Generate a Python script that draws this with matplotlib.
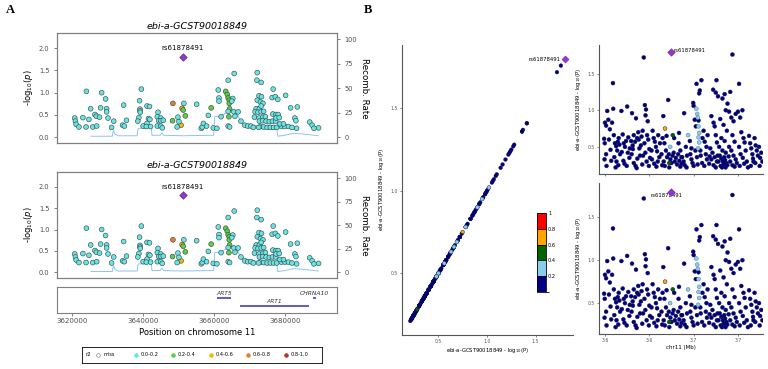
import numpy as np
import matplotlib.pyplot as plt
from matplotlib.colors import ListedColormap, BoundaryNorm
from matplotlib.cm import ScalarMappable

# ---- data: LocusZoom panels (position in kb, -log10 p, r2 class) ----
lz_pos_kb = [
    3620.7, 3620.9, 3621.1, 3621.9, 3623.0, 3624.0, 3624.7, 3623.9, 3625.2, 3625.8,
    3626.4, 3626.8, 3626.9, 3627.7, 3628.0, 3628.3, 3629.4, 3629.7, 3629.7, 3630.1,
    3631.1, 3631.7, 3634.2, 3634.7, 3635.3, 3634.5, 3639.5, 3639.0, 3639.1, 3639.1,
    3639.2, 3638.8, 3638.5, 3640.0, 3641.1, 3641.8, 3641.1, 3641.5, 3641.9, 3640.9,
    3642.1, 3644.2, 3644.0, 3645.0, 3644.4, 3645.0, 3645.7, 3644.0, 3645.0, 3645.4,
    3648.4, 3648.3, 3649.8, 3651.0, 3651.3, 3651.5, 3651.9, 3650.7, 3649.6, 3650.1,
    3655.1, 3656.4, 3656.7, 3657.0, 3657.9, 3658.4, 3659.2, 3659.8, 3660.8, 3661.2,
    3661.4, 3661.4, 3662.0, 3663.3, 3663.75, 3664.0, 3664.3, 3664.3, 3664.4, 3664.0,
    3664.2, 3664.0, 3665.7, 3665.3, 3665.0, 3665.6, 3665.9, 3666.8, 3664.0, 3664.4,
    3667.6, 3668.7, 3669.5, 3670.4, 3671.1, 3672.2, 3672.1, 3673.3, 3672.7, 3673.4,
    3672.2, 3673.1, 3673.8, 3671.9, 3672.8, 3673.3, 3671.6, 3672.4, 3673.3, 3674.0,
    3671.4, 3672.7, 3673.8, 3674.5, 3672.8, 3673.7, 3674.7, 3675.6, 3676.5, 3677.4,
    3673.1, 3674.0, 3675.0, 3675.9, 3676.8, 3677.7, 3672.6, 3676.7, 3676.4, 3677.3,
    3678.0, 3680.2, 3676.6, 3677.5, 3678.1, 3677.5, 3678.4, 3681.6, 3683.5, 3682.8,
    3683.1, 3683.3, 3687.0, 3687.7, 3688.2, 3689.5, 3679.0, 3680.0, 3681.0, 3682.0,
    3678.6, 3679.6,
]
lz_logp = [
    0.43, 0.36, 0.29, 0.23, 0.44, 1.03, 0.40, 0.23, 0.64, 0.23,
    0.51, 0.47, 0.25, 0.45, 0.66, 1.00, 0.86, 0.64, 0.57, 0.43,
    0.22, 0.36, 0.27, 0.25, 0.38, 0.72, 1.08, 0.82, 0.63, 0.59,
    0.56, 0.44, 0.36, 0.25, 0.70, 0.69, 0.31, 0.42, 0.40, 0.24,
    0.24, 0.56, 0.46, 0.43, 0.37, 0.37, 0.38, 0.25, 0.25, 0.21,
    0.76, 0.37, 0.45, 0.65, 0.61, 0.76, 0.48, 0.27, 0.23, 0.35,
    0.74, 0.20, 0.23, 0.31, 0.25, 0.49, 0.66, 0.21, 0.20, 1.06,
    0.88, 0.81, 0.46, 1.03, 0.96, 0.88, 0.83, 0.76, 0.64, 0.58,
    0.46, 1.28, 1.43, 0.87, 0.81, 0.57, 0.47, 0.57, 0.25, 0.23,
    0.36, 0.27, 0.25, 0.25, 0.22, 1.45, 1.28, 1.23, 0.93, 0.91,
    0.83, 0.79, 0.76, 0.64, 0.64, 0.70, 0.57, 0.56, 0.57, 0.58,
    0.45, 0.43, 0.45, 0.46, 0.36, 0.37, 0.36, 0.35, 0.36, 0.36,
    0.24, 0.23, 0.22, 0.22, 0.22, 0.22, 0.22, 1.08, 0.89, 0.91,
    0.85, 0.94, 0.52, 0.51, 0.51, 0.43, 0.44, 0.66, 0.68, 0.43,
    0.37, 0.20, 0.34, 0.27, 0.20, 0.21, 0.24, 0.24, 0.24, 0.22,
    0.30, 0.30,
]
# 0: 0.0-0.2, 1: 0.2-0.4, 2: 0.4-0.6, 3: 0.6-0.8
lz_r2 = [0] * len(lz_pos_kb)
for i, c in [(50, 3), (51, 1), (53, 2), (54, 1), (56, 1), (57, 2), (66, 1),
             (73, 1), (74, 1), (75, 1), (76, 1), (77, 1), (78, 1), (80, 1)]:
    lz_r2[i] = c

lead_snp = 'rs61878491'
lead_pos_kb = 3651.2
lead_logp = 1.80

recomb_kb = [3625.3, 3631.3, 3631.6, 3632.1, 3633.0, 3638.3, 3638.6, 3642.3, 3642.5,
             3644.8, 3645.3, 3645.8, 3651.0, 3659.9, 3660.2, 3662.0, 3664.0, 3665.5,
             3666.5, 3667.5, 3668.5, 3672.0, 3677.6, 3678.0, 3680.0, 3682.5, 3686.0, 3689.4]
recomb_rate = [1, 1, 7, 3, 1.5, 1.5, 9, 9.5, 2,
               2, 4.5, 2, 1.5, 2, 21, 22, 26, 28,
               25, 16, 13, 12, 11, 1, 2, 4, 3, 1.5]

gene_names = ['ART5', 'ART1', 'CHRNA10']
gene_start_kb = [3660.8, 3667.2, 3688.0]
gene_end_kb = [3664.7, 3686.7, 3688.9]

# ---- data: right-hand panels (position in Mb, -log10 P, r2 class) ----
rp_pos = [
    3.6200, 3.6205, 3.6210, 3.6196, 3.6199, 3.6205, 3.6198, 3.6207, 3.6215, 3.6222, 3.6218, 3.6225, 3.6228,
    3.6236, 3.6237, 3.6232, 3.6240, 3.6245, 3.6250, 3.6255, 3.6242, 3.6252, 3.6260, 3.6265, 3.6262, 3.6268, 3.6258, 3.6248,
    3.6274, 3.6280, 3.6285, 3.6290, 3.6295, 3.6300, 3.6305, 3.6310, 3.6288, 3.6298, 3.6276, 3.6303, 3.6283, 3.6312,
    3.6322, 3.6318, 3.6325, 3.6330, 3.6336, 3.6340, 3.6345, 3.6350, 3.6355, 3.6330, 3.6338, 3.6346, 3.6320, 3.6352, 3.6358, 3.6326, 3.6343,
    3.6375, 3.6380, 3.6385, 3.6383, 3.6370, 3.6365, 3.6378, 3.6390, 3.6395, 3.6400, 3.6372, 3.6388, 3.6398, 3.6368, 3.6393, 3.6403, 3.6382, 3.6362,
    3.6415, 3.6420, 3.6425, 3.6430, 3.6435, 3.6440, 3.6445, 3.6412, 3.6422, 3.6432, 3.6410, 3.6438, 3.6448,
    3.6485, 3.6463, 3.6460, 3.6468, 3.6475, 3.6480, 3.6465, 3.6470, 3.6488, 3.6495, 3.6500, 3.6505, 3.6510,
    3.6515, 3.6520, 3.6525, 3.6530, 3.6535, 3.6540, 3.6545, 3.6455, 3.6458, 3.6490, 3.6478, 3.6512, 3.6532,
    3.6534, 3.6540, 3.6548, 3.6555, 3.6560, 3.6557, 3.6565, 3.6570, 3.6545, 3.6568,
    3.6585, 3.6590, 3.6595, 3.6600, 3.6598, 3.6600, 3.6605, 3.6610, 3.6613, 3.6608, 3.6615, 3.6583, 3.6590, 3.6618,
    3.6628, 3.6625, 3.6635, 3.6630, 3.6640, 3.6645, 3.6650, 3.6655, 3.6660, 3.6638, 3.6648, 3.6658, 3.6663, 3.6622, 3.6632,
    3.6688, 3.6703, 3.6700, 3.6710, 3.6680, 3.6690, 3.6695, 3.6700, 3.6705, 3.6675, 3.6685, 3.6695, 3.6705, 3.6670,
    3.6680, 3.6690, 3.6700, 3.6708, 3.6672,
    3.6740, 3.6730, 3.6753, 3.6745, 3.6720, 3.6735, 3.6750, 3.6725, 3.6740, 3.6715, 3.6730, 3.6745, 3.6718, 3.6725,
    3.6732, 3.6738, 3.6742, 3.6748, 3.6735, 3.6722, 3.6752, 3.6728, 3.6744, 3.6712,
    3.6775, 3.6765, 3.6760, 3.6770, 3.6780, 3.6790, 3.6775, 3.6785, 3.6760, 3.6770, 3.6780, 3.6790, 3.6765, 3.6775,
    3.6785, 3.6795, 3.6758,
    3.6805, 3.6800, 3.6810, 3.6820, 3.6815, 3.6825, 3.6830, 3.6805, 3.6835, 3.6812, 3.6822, 3.6840, 3.6808, 3.6828, 3.6845,
    3.6850, 3.6855, 3.6860, 3.6865, 3.6870, 3.6875, 3.6880, 3.6885, 3.6890, 3.6895, 3.6900, 3.6905, 3.6910, 3.6858,
    3.6878, 3.6898, 3.6868,
    3.6471, 3.6506, 3.6490, 3.6494, 3.6575,
    3.6612, 3.6616, 3.6619, 3.6622, 3.6625, 3.6622, 3.6625, 3.6620,
]
rp_logp = [
    0.83, 0.79, 0.99, 0.61, 0.55, 0.40, 0.33, 0.24, 0.87, 0.74, 0.60, 0.46, 0.31,
    1.37, 1.02, 0.83, 0.66, 0.55, 0.51, 0.45, 0.36, 0.30, 0.25, 0.53, 0.62, 0.40, 0.57, 0.22,
    0.99, 0.67, 0.55, 0.50, 0.58, 1.05, 0.63, 0.35, 0.27, 0.24, 0.43, 0.42, 0.31, 0.48,
    0.96, 0.58, 0.52, 0.66, 0.57, 0.89, 0.62, 0.70, 0.48, 0.28, 0.24, 0.34, 0.40, 0.60, 0.38, 0.47, 0.21,
    1.72, 1.07, 1.01, 0.93, 0.72, 0.64, 0.55, 0.66, 0.60, 0.47, 0.38, 0.30, 0.24, 0.26, 0.85, 0.35, 0.42, 0.52,
    0.72, 0.62, 0.57, 0.50, 0.44, 0.66, 0.36, 0.33, 0.27, 0.23, 0.45, 0.30, 0.55,
    1.14, 0.92, 0.62, 0.55, 0.45, 0.36, 0.30, 0.24, 0.40, 0.33, 0.28, 0.38, 0.42,
    0.30, 0.35, 0.26, 0.40, 0.31, 0.23, 0.36, 0.40, 0.25, 0.22, 0.65, 0.62, 0.55,
    0.69, 0.45, 0.36, 0.30, 0.25, 0.96, 0.50, 0.38, 0.27, 0.22,
    0.40, 0.33, 0.28, 0.24, 1.10, 1.06, 0.87, 0.78, 1.36, 0.45, 0.36, 0.58, 0.48, 0.26,
    1.27, 1.23, 1.41, 0.45, 0.62, 0.72, 0.57, 0.40, 0.33, 0.28, 0.24, 0.50, 0.66, 0.86, 0.38,
    1.28, 1.41, 1.24, 1.19, 0.92, 0.83, 0.78, 0.66, 0.56, 0.48, 0.42, 0.36, 0.30, 0.27,
    0.33, 0.25, 0.22, 0.38, 0.37,
    1.22, 1.16, 1.09, 1.00, 0.88, 0.80, 0.72, 0.62, 0.58, 0.50, 0.45, 0.42, 0.38, 0.34,
    0.30, 0.36, 0.32, 0.28, 0.26, 0.24, 0.25, 0.22, 0.22, 0.30,
    1.76, 1.25, 0.98, 0.90, 0.85, 0.95, 0.66, 0.57, 0.50, 0.45, 0.38, 0.33, 0.30, 0.25,
    0.23, 0.28, 0.37,
    1.36, 0.98, 0.90, 1.00, 0.70, 0.62, 0.56, 0.50, 0.45, 0.40, 0.35, 0.30, 0.24, 0.27, 0.22,
    0.65, 0.55, 0.48, 0.40, 0.30, 0.62, 0.52, 0.45, 0.38, 0.50, 0.35, 0.42, 0.30, 0.24,
    0.28, 0.24, 0.34,
    0.75, 0.66, 0.28, 0.50, 0.66,
    1.02, 0.95, 0.90, 0.78, 0.69, 0.63, 0.56, 0.48,
]
# 0: navy (0-0.2), 1: light blue (0.2-0.4), 2: green (0.4-0.6), 3: orange (0.6-0.8)
rp_r2 = [0] * (len(rp_pos) - 13) + [3, 2, 2, 1, 1] + [1] * 8
lead_pos_mb = 3.6498

# ---- figure ----
W, H = 768, 369
fig = plt.figure(figsize=(W / 100, H / 100), dpi=100)


def px_box(x0, y0, x1, y1):
    return [x0 / W, 1 - y1 / H, (x1 - x0) / W, (y1 - y0) / H]


lz_palette = ['#62E6E6', '#55D047', '#F2B800', '#E57E2B', '#B8321A']
frame_col = '#7f7f7f'
tick_col = '#4d4d4d'
xlim_lz = (3615700, 3694700)


def locus_panel(rect, title):
    ax = fig.add_axes(rect)
    ax2 = ax.twinx()
    ax2.plot(np.array(recomb_kb) * 1000, recomb_rate, color='#8cc4f2', lw=0.7)
    ax2.set_ylim(-5.9, 106.4)
    ax2.set_yticks([0, 25, 50, 75, 100])
    ax2.set_ylabel('Recomb. Rate', rotation=270, va='bottom', fontsize=6.3, labelpad=2)
    ax.set_zorder(ax2.get_zorder() + 1)
    ax.patch.set_visible(False)

    cols = [lz_palette[c] for c in lz_r2]
    ax.scatter(np.array(lz_pos_kb) * 1000, lz_logp, s=12, c=cols,
               edgecolors='#3a3a3a', linewidths=0.4, zorder=3)
    ax.scatter([lead_pos_kb * 1000], [lead_logp], marker='D', s=15, c='#9A32D6',
               edgecolors='#3a3a3a', linewidths=0.4, zorder=4)
    ax.text(lead_pos_kb * 1000, lead_logp + 0.13, lead_snp, ha='center', va='bottom', fontsize=5)

    ax.set_xlim(*xlim_lz)
    ax.set_ylim(-0.13, 2.34)
    ax.set_xticks([])
    ax.set_yticks([0, 0.5, 1.0, 1.5, 2.0])
    ax.set_ylabel(r'-log$_{10}$($p$)', fontsize=6, labelpad=3)
    ax.set_title(title, fontsize=6.8, style='italic', pad=3)
    for a in (ax, ax2):
        for s in a.spines.values():
            s.set_color(frame_col)
            s.set_linewidth(0.8)
        a.tick_params(labelsize=4.8, colors=tick_col, length=2, width=0.5)
    return ax


locus_panel(px_box(57, 33, 337, 143), 'ebi-a-GCST90018849')
locus_panel(px_box(57, 172, 337, 278), 'ebi-a-GCST90018849')

# gene track
axg = fig.add_axes(px_box(57, 287, 337, 313))
gene_rows = [0.58, 0.27, 0.58]
for name, g0, g1, yr in zip(gene_names, gene_start_kb, gene_end_kb, gene_rows):
    axg.plot([g0 * 1000, g1 * 1000], [yr, yr], color='#5050C0', lw=1.3, solid_capstyle='butt')
    axg.text((g0 + g1) / 2 * 1000, yr + 0.07, name, ha='center', va='bottom',
             fontsize=4.3, style='italic', color='#333333')
axg.set_xlim(*xlim_lz)
axg.set_ylim(0, 1)
axg.set_yticks([])
axg.set_xticks([3620000, 3640000, 3660000, 3680000])
axg.set_xticklabels(['3620000', '3640000', '3660000', '3680000'])
axg.tick_params(labelsize=5, colors=tick_col, length=2, width=0.5, pad=1.5)
axg.set_xlabel('Position on chromosome 11', fontsize=6, labelpad=3)
for s in axg.spines.values():
    s.set_color(frame_col)
    s.set_linewidth(0.8)

# r2 legend
axl = fig.add_axes(px_box(82, 347, 322, 363))
axl.set_xlim(82, 322)
axl.set_ylim(0, 1)
axl.set_xticks([])
axl.set_yticks([])
for s in axl.spines.values():
    s.set_linewidth(0.6)
leg_labels = ['miss', '0.0-0.2', '0.2-0.4', '0.4-0.6', '0.6-0.8', '0.8-1.0']
leg_cols = ['white'] + lz_palette
axl.text(86, 0.5, 'r2', fontsize=4, va='center')
for i, (lab, col) in enumerate(zip(leg_labels, leg_cols)):
    xm = 98 + i * 37.5
    axl.scatter([xm], [0.5], s=7, c=col, edgecolors='#888888' if i == 0 else col, linewidths=0.5)
    axl.text(xm + 5, 0.5, lab, fontsize=3.6, va='center')

# ---- panel B ----
r2_cmap = ['#000080', '#87CEEB', '#006400', '#FFA500', '#FF0000']
pt_cols = [r2_cmap[c] for c in rp_r2]
pt_edges = ['#4a6d8c' if c == 1 else '#10104a' for c in rp_r2]
ylab_b = r'ebi-a-GCST90018849 - log$_{10}$(P)'


def style_b(ax):
    for k in ('top', 'right'):
        ax.spines[k].set_visible(False)
    for k in ('left', 'bottom'):
        ax.spines[k].set_color('#555555')
        ax.spines[k].set_linewidth(0.8)
    ax.tick_params(labelsize=3.3, colors='#555555', length=1.5, width=0.5, pad=1.5)


axm = fig.add_axes(px_box(402, 45, 573, 335))
axm.scatter(rp_logp, rp_logp, s=7, c=pt_cols, edgecolors=pt_edges, linewidths=0.3, zorder=3)
axm.scatter([lead_logp], [lead_logp], marker='D', s=13, c='#9A32D6', edgecolors='#5a1a80',
            linewidths=0.3, zorder=4)
axm.annotate(lead_snp, (lead_logp, lead_logp), xytext=(-3, 0), textcoords='offset points',
             ha='right', va='center', fontsize=3.8)
axm.set_xlim(0.125, 1.885)
axm.set_ylim(0.125, 1.885)
axm.set_xticks([0.5, 1.0, 1.5])
axm.set_yticks([0.5, 1.0, 1.5])
axm.set_xlabel(ylab_b, fontsize=3.8, labelpad=1.5)
axm.set_ylabel(ylab_b, fontsize=3.8, labelpad=3)
style_b(axm)

cax = fig.add_axes(px_box(537, 213, 546, 292))
cb = fig.colorbar(ScalarMappable(norm=BoundaryNorm([0, 0.2, 0.4, 0.6, 0.8, 1.0], 5),
                                 cmap=ListedColormap(r2_cmap)),
                  cax=cax, drawedges=True, ticks=[0.2, 0.4, 0.6, 0.8, 1.0])
cb.ax.set_yticklabels(['0.2', '0.4', '0.6', '0.8', '1'])
cb.ax.tick_params(labelsize=3.6, length=0, pad=1.5)
cb.outline.set_linewidth(0.6)
cb.dividers.set_linewidth(0.6)

for rect, ylim, offs, show_x in [(px_box(599, 45, 763, 174), (0.13, 1.89), (2, 0.5), False),
                                 (px_box(599, 183, 763, 334), (0.14, 1.90), (-15, -3), True)]:
    ax = fig.add_axes(rect)
    ax.scatter(rp_pos, rp_logp, s=8, c=pt_cols, edgecolors=pt_edges, linewidths=0.3, zorder=3)
    ax.scatter([lead_pos_mb], [lead_logp], marker='D', s=15, c='#9A32D6', edgecolors='#5a1a80',
               linewidths=0.3, zorder=4)
    ax.annotate(lead_snp, (lead_pos_mb, lead_logp), xytext=offs, textcoords='offset points',
                ha='left', va='center', fontsize=3.8)
    ax.set_xlim(3.6173, 3.6913)
    ax.set_ylim(*ylim)
    ax.set_xticks([3.62, 3.64, 3.66, 3.68])
    ax.set_yticks([0.5, 1.0, 1.5])
    if show_x:
        ax.set_xticklabels(['3.6', '3.6', '3.7', '3.7'])
        ax.set_xlabel('chr11 (Mb)', fontsize=4, labelpad=1.5)
    else:
        ax.set_xticklabels([])
    ax.set_ylabel(ylab_b, fontsize=3.8, labelpad=3)
    style_b(ax)

fig.text(10 / W, 1 - 10 / H, 'A', family='Liberation Serif', weight='bold', fontsize=9,
         ha='center', va='center')
fig.text(368 / W, 1 - 10 / H, 'B', family='Liberation Serif', weight='bold', fontsize=9,
         ha='center', va='center')

fig.savefig('out.png', dpi=100)
